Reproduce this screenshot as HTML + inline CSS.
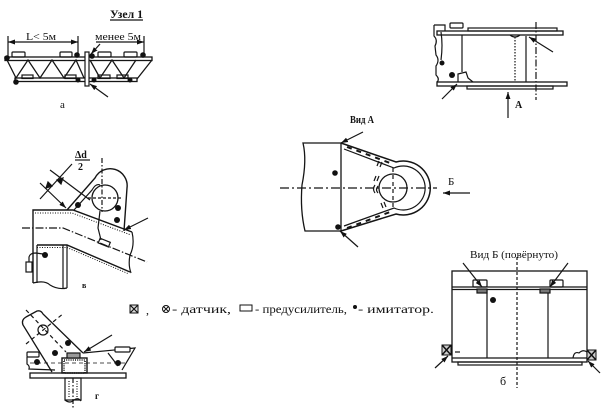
<!DOCTYPE html>
<html><head><meta charset="utf-8"><style>
html,body{margin:0;padding:0;background:#fff;}
svg{display:block;}
text{font-family:"Liberation Serif","Noto Serif CJK SC",serif;fill:#111;}
</style></head><body>
<svg width="604" height="415" viewBox="0 0 604 415" xmlns="http://www.w3.org/2000/svg">
<defs>
<marker id="a" viewBox="0 0 10 10" refX="10" refY="5" markerWidth="7" markerHeight="7" markerUnits="userSpaceOnUse" orient="auto"><path d="M0,1.5 L10,5 L0,8.5 z" fill="#111"/></marker>
<marker id="s" viewBox="0 0 10 10" refX="0" refY="5" markerWidth="7" markerHeight="7" markerUnits="userSpaceOnUse" orient="auto"><path d="M10,1.5 L0,5 L10,8.5 z" fill="#111"/></marker>
</defs>
<rect width="604" height="415" fill="#fff"/>

<g stroke="#151515" stroke-width="1.2" fill="none">
<!-- ===== Section a ===== -->
<line x1="110" y1="20" x2="143" y2="20"/>
<line x1="8" y1="42" x2="78" y2="42" marker-start="url(#s)" marker-end="url(#a)"/>
<line x1="8" y1="36" x2="8" y2="57"/>
<line x1="78" y1="36" x2="78" y2="53"/>
<line x1="96" y1="42" x2="144" y2="42" marker-end="url(#a)"/>
<line x1="144" y1="36" x2="144" y2="53"/>
<line x1="100" y1="44" x2="91" y2="54" marker-end="url(#a)"/>
<rect x="5" y="57" width="147" height="3.5" stroke-width="1.3"/>
<rect x="15" y="78" width="122" height="3.5" stroke-width="1.3"/>
<polyline points="7,60 16,78 28,60 40,78 52,60 64,78 76,60 84,78" stroke-width="1.3"/>
<polyline points="90,60 100,78 112,60 124,78 136,60" stroke-width="1.3"/>
<line x1="152" y1="60" x2="137" y2="79" stroke-width="1.3"/>
<rect x="12" y="52" width="13" height="5" rx="1"/>
<rect x="60" y="52" width="12" height="5" rx="1"/>
<rect x="98" y="52" width="13" height="5" rx="1"/>
<rect x="124" y="52" width="13" height="5" rx="1"/>
<rect x="22" y="75" width="11" height="3.5"/>
<rect x="65" y="75" width="11" height="3.5"/>
<rect x="98" y="75" width="12" height="3.5"/>
<rect x="117" y="75" width="11" height="3.5"/>
<rect x="85" y="52" width="4" height="34" fill="#fff"/>
<line x1="108" y1="97" x2="90" y2="84" marker-end="url(#a)"/>

<!-- ===== Top-right section ===== -->
<rect x="450" y="23" width="13" height="5" rx="1"/>
<rect x="468" y="28" width="89" height="3"/>
<rect x="437" y="31" width="126" height="4" stroke-width="1.3"/>
<rect x="437" y="82" width="130" height="4" stroke-width="1.3"/>
<rect x="467" y="86" width="86" height="3"/>
<path d="M434 25 L445 25 L445 31 M434 25 L434 36 Q438 40 435 46 L436 55 Q440 60 436 66 L436 75 Q440 79 437 82"/>
<path d="M441 32 Q443 45 441 60"/>
<line x1="462" y1="35" x2="462" y2="72"/>
<path d="M458 82 L458 74 L466 72 L468 78 L473 82"/>
<line x1="515" y1="37" x2="515" y2="82" stroke-dasharray="1.5 1.5"/>
<path d="M510 35 Q515 39 520 35"/>
<line x1="526" y1="36" x2="526" y2="82"/>
<line x1="536" y1="22" x2="536" y2="100" stroke-dasharray="7 2 1.5 2"/>
<line x1="553" y1="52" x2="529" y2="37" marker-end="url(#a)"/>
<line x1="442" y1="99" x2="457" y2="84" marker-end="url(#a)"/>
<line x1="508" y1="118" x2="508" y2="92" marker-end="url(#a)"/>

<!-- ===== Vid A ===== -->
<line x1="363" y1="132" x2="341" y2="143" marker-end="url(#a)"/>
<line x1="358" y1="247" x2="340" y2="231" marker-end="url(#a)"/>
<path d="M341 143 L303 143 Q307 160 302 185 Q300 210 305 231 L341 231 Z" stroke-width="1.3"/>
<path d="M341 143 L396 162 A27 27 0 1 1 396 214 L341 231" stroke-width="1.5"/>
<path d="M344 149 L394 168 A22 22 0 1 1 394 208 L344 226" stroke-width="1.2"/>
<path d="M347 147 L390 163" stroke-width="2" stroke-dasharray="5 5"/>
<path d="M347 228 L390 212" stroke-width="2" stroke-dasharray="5 5"/>
<path d="M379 161 l-2 5 M382 162 l-2 5 M376 176 l-2 5 M379 176 l-2 5 M375 185 q-3 4 0 8 M378 186 q-3 4 0 7 M381 203 l2 5 M384 202 l2 5"/>
<circle cx="393" cy="188" r="14" stroke-width="1.3"/>
<line x1="280" y1="188" x2="437" y2="188" stroke-dasharray="9 3 2 3"/>
<line x1="393" y1="168" x2="393" y2="210" stroke-dasharray="4 3"/>
<line x1="470" y1="193" x2="443" y2="193" marker-end="url(#a)"/>

<!-- ===== Section v ===== -->
<path d="M33 283 L33 210 L73 210 L132 232" stroke-width="1.4"/>
<path d="M35 213 L72 213 L131 235" stroke-dasharray="1 1.5" stroke-width="1"/>
<path d="M37 245 L67 245 L130 272" stroke-width="1.4"/>
<path d="M37 247.5 L67 247.5 L129 274" stroke-dasharray="1 1.5" stroke-width="1"/>
<path d="M132 232 Q135 245 130 255 Q128 265 131 273"/>
<line x1="37" y1="245" x2="37" y2="283"/>
<line x1="63" y1="245" x2="63" y2="288"/>
<line x1="67" y1="245" x2="67" y2="288"/>
<path d="M33 283 Q45 280 50 285 Q58 290 67 288"/>
<path d="M22 228 L63 228 L147 262" stroke-dasharray="8 2 1.5 2"/>
<path d="M67 210 L95 178 A17 17 0 0 1 127 188 L124 231" stroke-width="1.4"/>
<path d="M74 210 L92 190 Q96 183 100 185"/>
<circle cx="105" cy="198" r="13" stroke-width="1.3"/>
<line x1="102" y1="158" x2="102" y2="212" stroke-dasharray="5 2 1.5 2"/>
<line x1="88" y1="198" x2="121" y2="198" stroke-dasharray="3 2"/>
<path d="M100 211 L98 228 L101 240"/>
<rect x="99" y="240" width="11" height="5" transform="rotate(22 104 242)"/>
<line x1="148" y1="218" x2="124" y2="230" marker-end="url(#a)"/>
<line x1="40" y1="183" x2="66" y2="208" marker-end="url(#a)"/>
<line x1="50" y1="170" x2="90" y2="200"/>
<line x1="40" y1="199" x2="72" y2="164"/>
<path d="M52 186 l-6 2 l2 -6 z M57 180 l6 -2 l-2 6 z" fill="#111"/>
<rect x="26" y="262" width="6" height="10"/>
<path d="M29 262 L29 257 Q30 253 36 253 L43 254"/>
<line x1="75" y1="160" x2="90" y2="160"/>

<!-- ===== Section g ===== -->
<path d="M52 372 L23 325 Q21 320 26 317 L37 311 Q41 310 43 314 L83 353" stroke-width="1.3"/>
<circle cx="43" cy="330" r="5"/>
<line x1="26" y1="310" x2="66" y2="352" stroke-dasharray="4 3"/>
<line x1="26" y1="344" x2="64" y2="313" stroke-dasharray="4 3"/>
<rect x="30" y="373" width="96" height="5" stroke-width="1.3"/>
<line x1="30" y1="363" x2="125" y2="363" stroke-dasharray="4 3" stroke-width="0.8"/>
<rect x="27" y="352" width="12" height="5" rx="1"/>
<path d="M27 357 L27 364 Q30 366 29 369 L55 370"/>
<rect x="62" y="358" width="25" height="15" stroke-width="1.4"/>
<rect x="64" y="360" width="21" height="13" stroke-dasharray="1 1.2" stroke-width="1.6"/>
<rect x="67" y="353" width="13" height="5" fill="#999"/>
<rect x="65" y="378" width="16" height="22"/>
<path d="M65 400 Q70 404 74 400 Q78 397 81 401"/>
<line x1="73" y1="378" x2="73" y2="408" stroke-dasharray="5 2 1.5 2"/>
<line x1="69" y1="381" x2="69" y2="398" stroke-dasharray="1 1.5"/>
<line x1="77" y1="381" x2="77" y2="398" stroke-dasharray="1 1.5"/>
<path d="M83 353 L135 348 L122 370 M108 353 L118 366"/>
<rect x="115" y="347" width="15" height="5" rx="1" fill="#fff"/>
<line x1="112" y1="335" x2="84" y2="352" marker-end="url(#a)"/>

<!-- ===== Vid B ===== -->
<rect x="452" y="271" width="135" height="91" stroke-width="1.3"/>
<line x1="452" y1="287" x2="587" y2="287"/>
<line x1="452" y1="289.5" x2="587" y2="289.5"/>
<line x1="487" y1="290" x2="487" y2="358"/>
<line x1="548" y1="290" x2="548" y2="358"/>
<line x1="452" y1="358" x2="587" y2="358"/>
<rect x="458" y="362" width="124" height="3"/>
<rect x="473" y="280" width="14" height="7" rx="1"/>
<rect x="550" y="280" width="13" height="7" rx="1"/>
<rect x="477" y="289" width="10" height="4" fill="#777"/>
<rect x="540" y="289" width="10" height="4" fill="#777"/>
<line x1="517" y1="257" x2="517" y2="388" stroke-dasharray="3 2" stroke-width="1.2"/>
<path d="M573 358 Q574 351 579 353 Q583 349 587 352"/>
<line x1="455" y1="352" x2="460" y2="352"/>
<line x1="463" y1="263" x2="482" y2="287" marker-end="url(#a)"/>
<line x1="568" y1="263" x2="550" y2="287" marker-end="url(#a)"/>
<line x1="435" y1="368" x2="448" y2="356" marker-end="url(#a)"/>
<line x1="600" y1="373" x2="588" y2="361" marker-end="url(#a)"/>
</g>

<!-- sensors -->
<g stroke="#111" stroke-width="1" fill="#ccc">
<rect x="442" y="345" width="9" height="10"/>
<path d="M442 345 L451 355 M451 345 L442 355" fill="none" stroke-width="1.5"/>
<rect x="587" y="350" width="9" height="10"/>
<path d="M587 350 L596 360 M596 350 L587 360" fill="none" stroke-width="1.5"/>
<rect x="130" y="305" width="8" height="8" fill="#ddd"/>
<path d="M130 305 L138 313 M138 305 L130 313" fill="none" stroke-width="1.2"/>
<circle cx="166" cy="309" r="3.5" fill="#fff"/>
<path d="M163.5 306.5 L168.5 311.5 M168.5 306.5 L163.5 311.5" fill="none"/>
<rect x="240" y="305" width="12" height="6" fill="#fff"/>
</g>

<!-- dots -->
<g fill="#111">
<circle cx="7" cy="58" r="2.8"/><circle cx="77" cy="55" r="2.8"/><circle cx="92" cy="56" r="2.8"/><circle cx="143" cy="55" r="2.8"/>
<circle cx="16" cy="82" r="2.8"/><circle cx="78" cy="80" r="2.5"/><circle cx="94" cy="80" r="2.5"/><circle cx="130" cy="80" r="2.5"/>
<circle cx="442" cy="63" r="2.5"/><circle cx="452" cy="75" r="3"/>
<circle cx="335" cy="173" r="2.8"/><circle cx="338" cy="227" r="2.8"/>
<circle cx="78" cy="205" r="3"/><circle cx="118" cy="208" r="3"/><circle cx="117" cy="220" r="3"/><circle cx="45" cy="255" r="3"/>
<circle cx="68" cy="343" r="3"/><circle cx="55" cy="353" r="3"/><circle cx="37" cy="362" r="3"/><circle cx="118" cy="363" r="3"/>
<circle cx="493" cy="300" r="3"/>
<circle cx="355" cy="307" r="2"/>
</g>

<!-- text -->
<text x="110" y="18" font-size="12" font-weight="bold" textLength="33" lengthAdjust="spacingAndGlyphs">Узел 1</text>
<text x="26" y="40" font-size="11" textLength="30" lengthAdjust="spacingAndGlyphs">L&lt; 5м</text>
<text x="95" y="40" font-size="11" textLength="46" lengthAdjust="spacingAndGlyphs">менее 5м</text>
<text x="60" y="108" font-size="11">а</text>
<text x="515" y="108" font-size="10" font-weight="bold">А</text>
<text x="350" y="123" font-size="10" font-weight="bold" textLength="24" lengthAdjust="spacingAndGlyphs">Вид А</text>
<text x="448" y="185" font-size="11">Б</text>
<text x="75" y="158" font-size="10" font-weight="bold" font-family="Liberation Sans, sans-serif">Δd</text>
<text x="78" y="170" font-size="10" font-weight="bold" font-family="Liberation Sans, sans-serif">2</text>
<text x="82" y="288" font-size="8" font-weight="bold">в</text>
<text x="95" y="399" font-size="9" font-weight="bold">г</text>
<text x="146" y="314" font-size="12">,</text>
<text x="172" y="313" font-size="12" textLength="59" lengthAdjust="spacingAndGlyphs">- датчик,</text>
<text x="255" y="313" font-size="12" textLength="92" lengthAdjust="spacingAndGlyphs">- предусилитель,</text>
<text x="358" y="313" font-size="12" textLength="76" lengthAdjust="spacingAndGlyphs">- имитатор.</text>
<text x="470" y="258" font-size="11" textLength="88" lengthAdjust="spacingAndGlyphs">Вид Б (повёрнуто)</text>
<text x="500" y="385" font-size="12">б</text>
</svg>
</body></html>
